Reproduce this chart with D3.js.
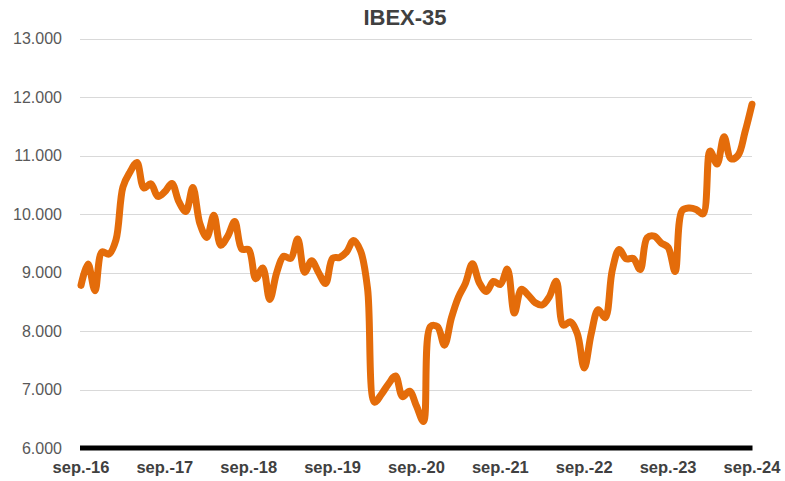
<!DOCTYPE html>
<html>
<head>
<meta charset="utf-8">
<script src="https://cdn.jsdelivr.net/npm/d3@7"></script>
<style>
  body { margin: 0; background: #fff; }
  svg { display: block; }
</style>
</head>
<body>
<svg id="chart" width="785" height="481"></svg>
<script>
// Monthly closes, sep-2016 .. sep-2024
const months = d3.range(97); // month index from sep-2016
const values = [
  8780, 9144, 8689, 9352,
  9315, 9555, 10463, 10715, 10880, 10444, 10515, 10300, 10381, 10523, 10211, 10044,
  10452, 9840, 9600, 9980, 9466, 9623, 9870, 9400, 9389, 8894, 9077, 8540,
  8999, 9278, 9240, 9571, 9004, 9199, 8996, 8813, 9244, 9258, 9352, 9549,
  9368, 8723, 6785, 6922, 7097, 7231, 6877, 6970, 6717, 6452, 8077, 8074,
  7758, 8225, 8580, 8815, 9148, 8821, 8675, 8847, 8796, 9058, 8306, 8714,
  8612, 8482, 8445, 8584, 8851, 8099, 8156, 7956, 7367, 7956, 8363, 8229,
  9034, 9394, 9232, 9241, 9051, 9593, 9622, 9505, 9428, 9017, 10058, 10102,
  10078, 10001, 11075, 10854, 11322, 10944, 11002, 11401, 11877
];
const xTickLabels = ["sep.-16","sep.-17","sep.-18","sep.-19","sep.-20","sep.-21","sep.-22","sep.-23","sep.-24"];
const yTicks = [6000, 7000, 8000, 9000, 10000, 11000, 12000, 13000];
const title = "IBEX-35";

const svg = d3.select("#chart");
const plotLeft = 81, plotRight = 752, plotTop = 38.5, plotBottom = 448;

const x = d3.scaleLinear().domain([0, 96]).range([plotLeft, plotRight]);
const y = d3.scaleLinear().domain([6000, 13000]).range([plotBottom, plotTop]);

const fmt = v => d3.format(",")(v).replace(/,/g, ".");

// gridlines
svg.append("g").selectAll("line").data(yTicks.filter(d => d > 6000)).join("line")
  .attr("x1", 80).attr("x2", 752)
  .attr("y1", d => Math.round(y(d)) + 0.5).attr("y2", d => Math.round(y(d)) + 0.5)
  .attr("stroke", "#d9d9d9").attr("stroke-width", 1);

// y axis labels
svg.append("g").selectAll("text").data(yTicks).join("text")
  .attr("x", 62).attr("y", d => y(d))
  .attr("dy", "0.35em")
  .attr("text-anchor", "end")
  .attr("font-family", "Liberation Sans, Arial, sans-serif")
  .attr("font-size", 16)
  .attr("fill", "#595959")
  .text(d => fmt(d));

// line
const line = d3.line()
  .x((d, i) => x(months[i]))
  .y(d => y(d))
  .curve(d3.curveCatmullRom.alpha(0.5));

svg.append("path")
  .datum(values)
  .attr("d", line)
  .attr("fill", "none")
  .attr("stroke", "#E46C0A")
  .attr("stroke-width", 7)
  .attr("stroke-linejoin", "round")
  .attr("stroke-linecap", "round");

// baseline
svg.append("line")
  .attr("x1", 80).attr("x2", 752.5)
  .attr("y1", y(6000)).attr("y2", y(6000))
  .attr("stroke", "#000").attr("stroke-width", 5);

// x labels
svg.append("g").selectAll("text").data(xTickLabels).join("text")
  .attr("x", (d, i) => x(i * 12))
  .attr("y", 473)
  .attr("text-anchor", "middle")
  .attr("font-family", "Liberation Sans, Arial, sans-serif")
  .attr("font-size", 16.5)
  .attr("font-weight", "bold")
  .attr("fill", "#404040")
  .text(d => d);

// title
svg.append("text")
  .attr("x", 405).attr("y", 25)
  .attr("text-anchor", "middle")
  .attr("font-family", "Liberation Sans, Arial, sans-serif")
  .attr("font-size", 22)
  .attr("font-weight", "bold")
  .attr("fill", "#404040")
  .text(title);
</script>
</body>
</html>
